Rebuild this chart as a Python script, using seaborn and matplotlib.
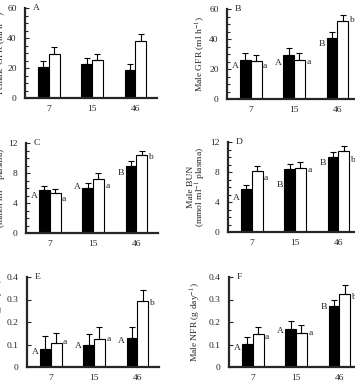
import pandas as pd
import matplotlib
matplotlib.use("Agg")
import matplotlib.pyplot as plt
import seaborn as sns
from matplotlib.ticker import MultipleLocator

sns.set_style("ticks")
plt.rcParams["font.family"] = ["Liberation Serif", "DejaVu Serif"]
plt.rcParams["mathtext.fontset"] = "stix"

ages = ["7", "15", "46"]
groups = ["solid", "open"]

# A - female GFR
gfr_f_solid = [21.0, 23.0, 18.8]
gfr_f_open = [29.4, 25.2, 38.0]
gfr_f_solid_err = [4.0, 3.5, 4.2]
gfr_f_open_err = [4.4, 4.4, 4.5]

# B - male GFR
gfr_m_solid = [26.3, 29.4, 40.9]
gfr_m_open = [25.6, 26.3, 51.9]
gfr_m_solid_err = [4.7, 4.8, 4.1]
gfr_m_open_err = [3.8, 4.7, 4.1]

# C - female BUN
bun_f_solid = [5.7, 6.06, 8.94]
bun_f_open = [5.3, 7.26, 10.4]
bun_f_solid_err = [0.6, 0.64, 0.66]
bun_f_open_err = [0.6, 0.7, 0.6]

# D - male BUN
bun_m_solid = [5.73, 8.36, 10.04]
bun_m_open = [8.09, 8.58, 10.84]
bun_m_solid_err = [0.57, 0.71, 0.63]
bun_m_open_err = [0.75, 0.75, 0.63]

# E - female NFR
nfr_f_solid = [0.082, 0.098, 0.129]
nfr_f_open = [0.105, 0.125, 0.295]
nfr_f_solid_err = [0.054, 0.047, 0.051]
nfr_f_open_err = [0.047, 0.051, 0.046]

# F - male NFR
nfr_m_solid = [0.101, 0.168, 0.269]
nfr_m_open = [0.147, 0.151, 0.326]
nfr_m_solid_err = [0.034, 0.035, 0.031]
nfr_m_open_err = [0.029, 0.037, 0.039]

# significance letters (left of solid bar / right of open bar) and their heights
letters = {
    "A": ([], [], [], []),
    "B": (["A", "A", "B"], [21.8, 24.0, 37.0], ["a", "a", "b"], [21.8, 24.7, 52.8]),
    "C": (["A", "A", "B"], [5.0, 6.1, 8.0], ["a", "a", "b"], [4.56, 6.3, 10.1]),
    "D": (["A", "B", "B"], [4.53, 6.3, 9.2], ["a", "a", "b"], [7.2, 8.2, 9.64]),
    "E": (["A", "A", "A"], [0.066, 0.095, 0.114], ["a", "a", "b"], [0.11, 0.125, 0.286]),
    "F": (["A", "A", "B"], [0.084, 0.162, 0.265], ["a", "a", "b"], [0.135, 0.151, 0.309]),
}

# tag, data, ylabel, ymax, major, minor, axes left/top (px), ylabel x (axes frac)
panels = [
    ("A", gfr_f_solid, gfr_f_open, gfr_f_solid_err, gfr_f_open_err,
     "Female GFR (ml h$^{-1}$)", 60, 20, 5, 25, 8, -0.13),
    ("B", gfr_m_solid, gfr_m_open, gfr_m_solid_err, gfr_m_open_err,
     "Male GFR (ml h$^{-1}$)", 60, 20, 5, 227, 9, -0.15),
    ("C", bun_f_solid, bun_f_open, bun_f_solid_err, bun_f_open_err,
     "Female BUN\n(mmol ml$^{-1}$ plasma)", 12, 4, 1, 26, 143, -0.13),
    ("D", bun_m_solid, bun_m_open, bun_m_solid_err, bun_m_open_err,
     "Male BUN\n(mmol ml$^{-1}$ plasma)", 12, 4, 1, 228, 142, -0.15),
    ("E", nfr_f_solid, nfr_f_open, nfr_f_solid_err, nfr_f_open_err,
     "Female NFR (g day$^{-1}$)", 0.4, 0.1, 0.1, 27, 277, -0.16),
    ("F", nfr_m_solid, nfr_m_open, nfr_m_solid_err, nfr_m_open_err,
     "Male NFR (g day$^{-1}$)", 0.4, 0.1, 0.1, 229, 277, -0.2),
]

FS = 6.8
W, H = 355, 386
fig = plt.figure(figsize=(W / 100, H / 100), dpi=100)

for tag, solid, opn, solid_err, open_err, ylabel, ymax, major, minor, lpx, tpx, labx in panels:
    ax = fig.add_axes([lpx / W, (H - tpx - 90) / H, 132 / W, 90 / H])
    df = pd.DataFrame({
        "age": ages * 2,
        "value": solid + opn,
        "group": [groups[0]] * 3 + [groups[1]] * 3,
    })
    sns.barplot(data=df, x="age", y="value", hue="group", hue_order=groups,
                palette=["black", "white"], edgecolor="black", linewidth=0.8,
                width=0.5, errorbar=None, legend=False, ax=ax)

    left_txt, left_y, right_txt, right_y = letters[tag]
    for cont, errs in zip(ax.containers, [solid_err, open_err]):
        xs = [b.get_x() + b.get_width() / 2 for b in cont]
        ys = [b.get_height() for b in cont]
        ax.errorbar(xs, ys, yerr=[[0] * 3, errs], fmt="none", ecolor="black",
                    elinewidth=0.8, capsize=2.5, capthick=0.8)
    solid_bars = list(ax.containers[0])
    open_bars = list(ax.containers[1])
    for i in range(len(left_txt)):
        ax.text(solid_bars[i].get_x() - 0.03, left_y[i], left_txt[i],
                ha="right", va="center", fontsize=FS)
        ax.text(open_bars[i].get_x() + open_bars[i].get_width() + 0.03,
                right_y[i], right_txt[i], ha="left", va="center", fontsize=FS)

    ax.text(0.06, 1.0, tag, transform=ax.transAxes, ha="left", va="center",
            fontsize=FS)
    ax.set_xlim(-0.55, 2.5)
    ax.set_ylim(0, ymax)
    ax.yaxis.set_major_locator(MultipleLocator(major))
    ax.yaxis.set_minor_locator(MultipleLocator(minor))
    if major == 0.1:
        ax.set_yticks([0, 0.1, 0.2, 0.3, 0.4])
        ax.set_yticklabels(["0", "0.1", "0.2", "0.3", "0.4"])
    ax.set_xlabel("")
    ax.set_ylabel(ylabel, fontsize=FS, linespacing=0.9)
    ax.yaxis.set_label_coords(labx, 0.5)
    ax.tick_params(axis="y", which="major", direction="in", length=3,
                   width=0.8, pad=6, labelsize=FS)
    ax.tick_params(axis="y", which="minor", direction="in", length=2, width=0.8)
    ax.tick_params(axis="x", length=0, pad=5, labelsize=FS)
    for s in ["top", "right"]:
        ax.spines[s].set_visible(False)
    for s in ["left", "bottom"]:
        ax.spines[s].set_linewidth(1.6)
    ax.set_facecolor("white")

fig.savefig("out.png", dpi=100, facecolor="white")
